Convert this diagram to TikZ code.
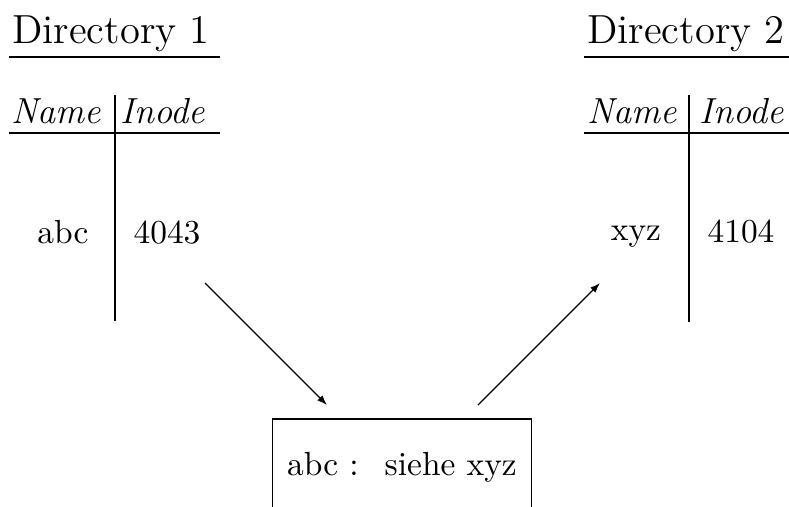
\documentclass[tikz,border=0pt]{standalone}
\usepackage{tikz}
\usetikzlibrary{arrows.meta}
\tikzset{
  dirtitle/.style={font=\fontsize{13}{15}\selectfont,inner sep=0pt,anchor=base},
  colhead/.style={font=\fontsize{11.6}{14}\selectfont\itshape,inner sep=0pt,anchor=base},
  entry/.style={font=\fontsize{10.7}{13}\selectfont,inner sep=0pt,anchor=base},
  filebox/.style={draw,font=\fontsize{10.7}{13}\selectfont,minimum width=82.9pt,minimum height=31pt,inner sep=0pt},
  pointer/.style={-{Latex[length=3.2pt,width=2.3pt]}}
}

\begin{document}
\begin{tikzpicture}[x=0.32pt,y=-0.32pt]
  \useasboundingbox (0,0) rectangle (789,506);
  % directory 1
  \node[dirtitle] (dir1) at (111,43) {Directory 1};
  \draw (9,57) -- (220,57);
  \node[colhead] (name1) at (56,123) {Name};
  \node[colhead] (inode1) at (163,123) {Inode};
  \draw (9,133) -- (220,133);
  \draw (115,95) -- (115,321);
  \node[entry] (abc) at (63,243) {abc};
  \node[entry] (n4043) at (167,243) {4043};
  % directory 2
  \node[dirtitle] (dir2) at (686,43) {Directory 2};
  \draw (584,57) -- (789,57);
  \node[colhead] (name2) at (632,123) {Name};
  \node[colhead] (inode2) at (742,123) {Inode};
  \draw (584,133) -- (789,133);
  \draw (689,95) -- (689,322);
  \node[entry] (xyz) at (636,240) {xyz};
  \node[entry] (n4104) at (741,242) {4104};
  % symbolic link
  \node[filebox] (file) at (402,467.5) {abc :~ siehe xyz};
  \coordinate (from1) at (205,283);
  \coordinate (to1) at (327,405);
  \coordinate (from2) at (478,405);
  \coordinate (to2) at (600,283);
  \draw[pointer] (from1) -- (to1);
  \draw[pointer] (from2) -- (to2);
\end{tikzpicture}
\end{document}
